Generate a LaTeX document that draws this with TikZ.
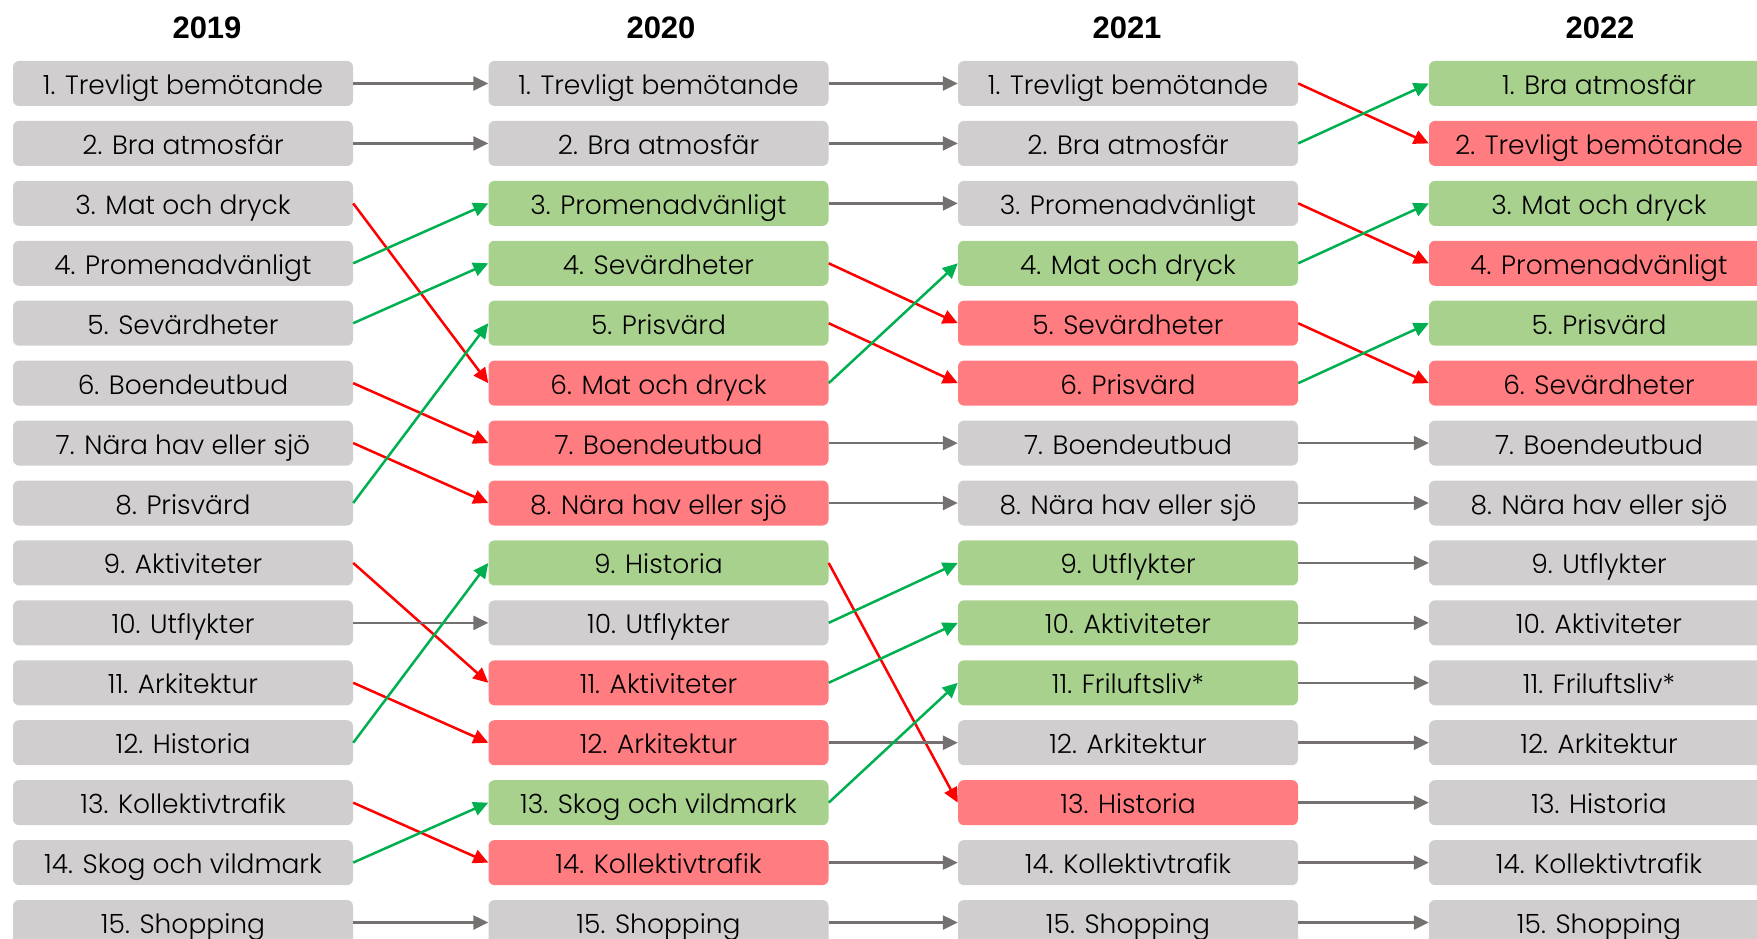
\documentclass[tikz,border=0pt]{standalone}
\usepackage{fontspec}
\setmainfont{Poppins Light}
\newfontfamily\headfont{Liberation Sans}
\usetikzlibrary{arrows.meta}
\definecolor{boxgrey}{HTML}{D0CECE}
\definecolor{boxgreen}{HTML}{A9D18E}
\definecolor{boxred}{HTML}{FF7C80}
\definecolor{arrgrey}{HTML}{767171}
\definecolor{arrgreen}{HTML}{00B050}
\definecolor{arrred}{HTML}{FF0000}
\tikzset{
  item/.style={rounded corners=6pt, minimum width=340pt, minimum height=45pt, inner sep=0pt,
    text height=22pt, text depth=0pt, font=\fontsize{26.5}{30}\selectfont, text=black},
  G/.style={item, fill=boxgrey},
  U/.style={item, fill=boxgreen},
  D/.style={item, fill=boxred},
  year/.style={anchor=base, font=\headfont\bfseries\fontsize{31}{34}\selectfont},
  same/.style={draw=arrgrey, line width=2.5pt, -{Triangle[length=15pt,width=14pt]}},
  up/.style={draw=arrgreen, line width=2.5pt, -{Triangle[length=15pt,width=14pt]}},
  down/.style={draw=arrred, line width=2.5pt, -{Triangle[length=15pt,width=14pt]}},
}
\begin{document}
\begin{tikzpicture}[x=1pt, y=-1pt]
\useasboundingbox (0,0) rectangle (1757,939);
\node[year] (h1) at (207,39) {2019};
\node[year] (h2) at (661,39) {2020};
\node[year] (h3) at (1127,39) {2021};
\node[year] (h4) at (1600,39) {2022};
\foreach \s/\t [count=\i] in {G/1. Trevligt bemötande, G/2. Bra atmosfär, G/3. Mat och dryck,
  G/4. Promenadvänligt, G/5. Sevärdheter, G/6. Boendeutbud, G/7. Nära hav eller sjö,
  G/8. Prisvärd, G/9. Aktiviteter, G/10. Utflykter, G/11. Arkitektur, G/12. Historia,
  G/13. Kollektivtrafik, G/14. Skog och vildmark, G/15. Shopping}
  \node[\s] (a\i) at (183,{83.5+(\i-1)*59.93}) {\t};
\foreach \s/\t [count=\i] in {G/1. Trevligt bemötande, G/2. Bra atmosfär, U/3. Promenadvänligt,
  U/4. Sevärdheter, U/5. Prisvärd, D/6. Mat och dryck, D/7. Boendeutbud,
  D/8. Nära hav eller sjö, U/9. Historia, G/10. Utflykter, D/11. Aktiviteter,
  D/12. Arkitektur, U/13. Skog och vildmark, D/14. Kollektivtrafik, G/15. Shopping}
  \node[\s] (b\i) at (658.5,{83.5+(\i-1)*59.93}) {\t};
\foreach \s/\t [count=\i] in {G/1. Trevligt bemötande, G/2. Bra atmosfär, G/3. Promenadvänligt,
  U/4. Mat och dryck, D/5. Sevärdheter, D/6. Prisvärd, G/7. Boendeutbud,
  G/8. Nära hav eller sjö, U/9. Utflykter, U/10. Aktiviteter, U/11. Friluftsliv*,
  G/12. Arkitektur, D/13. Historia, G/14. Kollektivtrafik, G/15. Shopping}
  \node[\s] (c\i) at (1128,{83.5+(\i-1)*59.93}) {\t};
\foreach \s/\t [count=\i] in {U/1. Bra atmosfär, D/2. Trevligt bemötande, U/3. Mat och dryck,
  D/4. Promenadvänligt, U/5. Prisvärd, D/6. Sevärdheter, G/7. Boendeutbud,
  G/8. Nära hav eller sjö, G/9. Utflykter, G/10. Aktiviteter, G/11. Friluftsliv*,
  G/12. Arkitektur, G/13. Historia, G/14. Kollektivtrafik, G/15. Shopping}
  \node[\s] (d\i) at (1599,{83.5+(\i-1)*59.93}) {\t};
\foreach \f/\t/\s in {1/1/same, 2/2/same, 3/6/down, 4/3/up, 5/4/up, 6/7/down, 7/8/down,
  8/5/up, 9/11/down, 10/10/same, 11/12/down, 12/9/up, 13/14/down, 14/13/up, 15/15/same}
  \draw[\s] (a\f.east) -- (b\t.west);
\foreach \f/\t/\s in {1/1/same, 2/2/same, 3/3/same, 4/5/down, 5/6/down, 6/4/up, 7/7/same,
  8/8/same, 9/13/down, 10/9/up, 11/10/up, 12/12/same, 13/11/up, 14/14/same, 15/15/same}
  \draw[\s] (b\f.east) -- (c\t.west);
\foreach \f/\t/\s in {1/2/down, 2/1/up, 3/4/down, 4/3/up, 5/6/down, 6/5/up, 7/7/same,
  8/8/same, 9/9/same, 10/10/same, 11/11/same, 12/12/same, 13/13/same, 14/14/same, 15/15/same}
  \draw[\s] (c\f.east) -- (d\t.west);
\end{tikzpicture}
\end{document}
